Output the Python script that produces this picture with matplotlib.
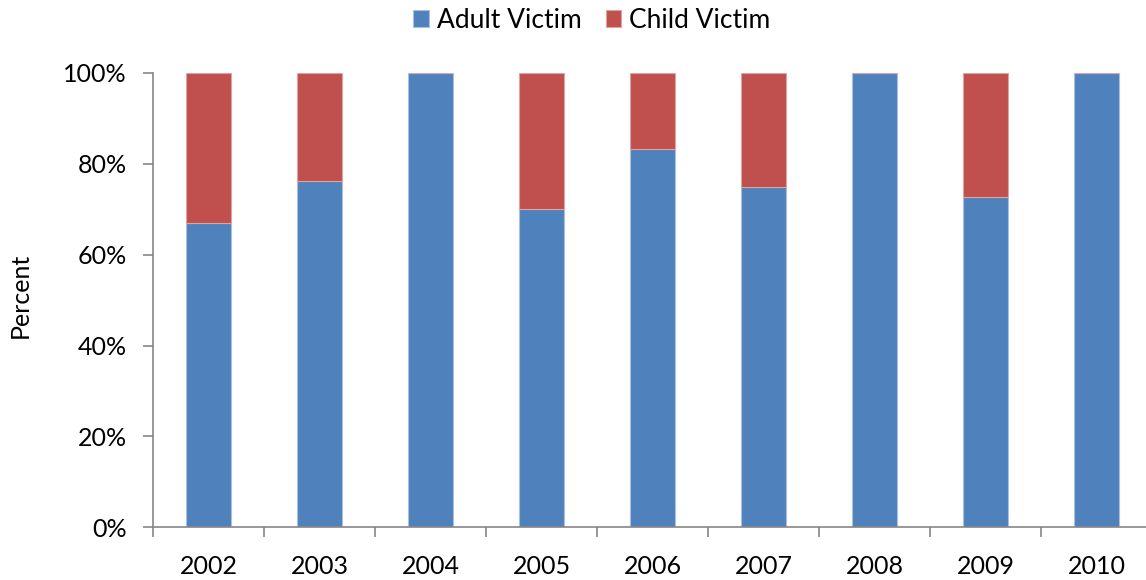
import matplotlib
matplotlib.use("Agg")
import matplotlib.pyplot as plt
from matplotlib.ticker import PercentFormatter, FixedLocator
import numpy as np

years = ["2002", "2003", "2004", "2005", "2006", "2007", "2008", "2009", "2010"]
adult = [66.9, 76.2, 100.0, 70.0, 83.3, 75.0, 100.0, 72.7, 100.0]
child = [33.1, 23.8, 0.0, 30.0, 16.7, 25.0, 0.0, 27.3, 0.0]

blue = "#4F81BD"
red = "#C0504D"

plt.rcParams['font.family'] = ['Lato', 'DejaVu Sans']

fig = plt.figure(figsize=(11.46, 5.80), dpi=100)
ax = fig.add_axes([153/1146, 1-527.3/580, (1152-153)/1146, (527.3-73)/580])

x = np.arange(len(years))
tot = np.array(adult) + np.array(child)
a = np.array(adult) / tot
c = np.array(child) / tot
ax.bar(x, a, width=0.4, color=blue, edgecolor="#a9c0de", linewidth=0.8, label="Adult Victim")
ax.bar(x, c, bottom=a, width=0.4, color=red, edgecolor="#e0a3a1", linewidth=0.8, label="Child Victim")

ax.set_xlim(-0.5, len(years) - 0.5)
ax.set_ylim(0, 1)
ax.set_yticks(np.arange(0, 1.01, 0.2))
ax.yaxis.set_major_formatter(PercentFormatter(1.0, decimals=0))
ax.set_xticks(x)
ax.set_xticklabels(years)
ax.xaxis.set_minor_locator(FixedLocator(np.arange(-0.5, len(years), 1.0)))
ax.tick_params(axis='x', which='major', length=0, labelsize=18, pad=20)
ax.tick_params(axis='x', which='minor', length=7, width=1.2, color="#868686", direction='out')
ax.tick_params(axis='y', length=7, width=1.2, color="#868686", labelsize=18, pad=12)

for s in ["top", "right"]:
    ax.spines[s].set_visible(False)
for s in ["left", "bottom"]:
    ax.spines[s].set_color("#868686")
    ax.spines[s].set_linewidth(1.2)

fig.text(20/1146, 1-295/580, "Percent", rotation=90, ha='center', va='center', fontsize=18)

handles, labels = ax.get_legend_handles_labels()
fig.legend(handles, labels, loc='center', bbox_to_anchor=(592/1146, 1-20/580), ncol=2,
           frameon=False, fontsize=19, handlelength=0.6, handleheight=0.6,
           handletextpad=0.3, columnspacing=0.9)

fig.savefig("out.png", dpi=100)
